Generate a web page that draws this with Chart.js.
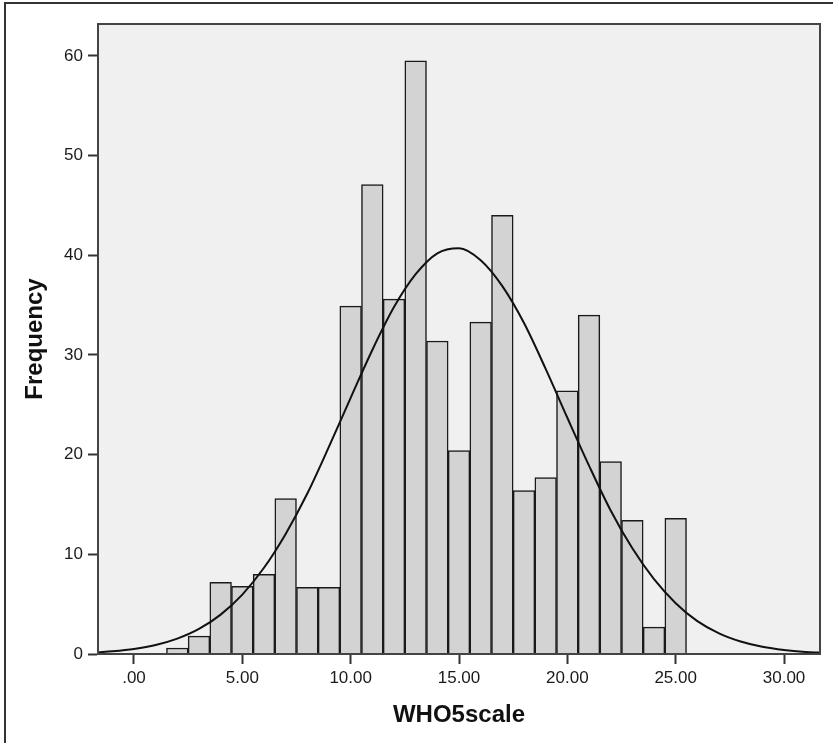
<!DOCTYPE html>
<html>
<head>
<meta charset="utf-8">
<script src="https://cdn.jsdelivr.net/npm/chart.js@4.4.0/dist/chart.umd.min.js"></script>
<style>
  html, body { margin: 0; padding: 0; background: #fff; }
  #wrap { position: relative; width: 833px; height: 743px; }
  #frame { position: absolute; left: 4px; top: 2px; right: 0; bottom: 0;
           border-left: 2px solid #333; border-top: 2px solid #333; pointer-events: none; }
  canvas { position: absolute; left: 0; top: 0; }
</style>
</head>
<body>
<div id="wrap">
  <canvas id="chart" width="833" height="743"></canvas>
  <div id="frame"></div>
</div>
<script>
// histogram bins (centre of each 1-unit bin) and counts
const binCenters = [2, 3, 4, 5, 6, 7, 8, 9, 10, 11, 12, 13, 14, 15, 16, 17, 18, 19, 20, 21, 22, 23, 24, 25];
const frequencies = [0.6, 1.8, 7.2, 6.8, 8.0, 15.6, 6.7, 6.7, 34.9, 47.1, 35.6, 59.5, 31.4, 20.4, 33.3, 44.0, 16.4, 17.7, 26.4, 34.0, 19.3, 13.4, 2.7, 13.6];

// normal curve
const curveX = [-1.66, -1, 0, 1, 2, 3, 4, 5, 6, 7, 8, 9, 10, 11, 12, 13, 14, 15, 16, 17, 18, 19, 20, 21, 22, 23, 24, 25, 26, 27, 28, 29, 30, 31, 31.66];
const curveY = [0.18, 0.28, 0.51, 0.9, 1.54, 2.51, 3.95, 5.96, 8.65, 12.05, 16.1, 20.8, 25.7, 30.5, 34.8, 38.1, 40.2, 40.7, 39.5, 36.9, 33.2, 28.6, 23.7, 18.9, 14.4, 10.6, 7.5, 5.1, 3.3, 2.07, 1.25, 0.72, 0.4, 0.21, 0.14];

const xTicks = [0, 5, 10, 15, 20, 25, 30];
const yTicks = [0, 10, 20, 30, 40, 50, 60];

const plotBox = {
  id: 'plotBox',
  beforeDatasetsDraw(chart) {
    const { ctx, chartArea: a } = chart;
    ctx.save();
    ctx.fillStyle = '#f0f0f0';
    ctx.fillRect(a.left, a.top, a.right - a.left, a.bottom - a.top);
    ctx.restore();
  },
  afterDraw(chart) {
    const { ctx, chartArea: a } = chart;
    ctx.save();
    ctx.strokeStyle = '#444';
    ctx.lineWidth = 2;
    ctx.strokeRect(a.left, a.top, a.right - a.left, a.bottom - a.top);
    ctx.restore();
  }
};

const font = { family: "'Liberation Sans', Arial, sans-serif" };

new Chart(document.getElementById('chart'), {
  type: 'bar',
  data: {
    datasets: [
      {
        type: 'line',
        data: curveX.map((x, i) => ({ x: x, y: curveY[i] })),
        borderColor: '#111',
        borderWidth: 2,
        pointRadius: 0,
        cubicInterpolationMode: 'monotone',
        fill: false,
        order: 0
      },
      {
        type: 'bar',
        data: binCenters.map((x, i) => ({ x: x, y: frequencies[i] })),
        backgroundColor: '#d3d3d3',
        borderColor: '#1a1a1a',
        borderWidth: 1.5,
        barPercentage: 1,
        categoryPercentage: 1,
        grouped: false,
        order: 1
      }
    ]
  },
  options: {
    responsive: false,
    animation: false,
    devicePixelRatio: 1,
    layout: { padding: { left: 0, top: 24, right: 13, bottom: 0 } },
    plugins: { legend: { display: false }, tooltip: { enabled: false } },
    scales: {
      x: {
        type: 'linear',
        offset: false,
        min: -1.66,
        max: 31.66,
        afterBuildTicks: (s) => { s.ticks = xTicks.map(v => ({ value: v })); },
        afterFit: (s) => { s.height = 89; },
        ticks: {
          padding: 4,
          color: '#1a1a1a',
          font: { ...font, size: 17 },
          callback: (v) => v === 0 ? '.00' : v.toFixed(2)
        },
        grid: { offset: false, drawOnChartArea: false, tickLength: 10, tickWidth: 2, tickColor: '#333' },
        border: { color: '#333', width: 2 },
        title: {
          display: true,
          text: 'WHO5scale',
          color: '#111',
          font: { ...font, size: 24, weight: 'bold' },
          padding: { top: 0, bottom: 13 }
        }
      },
      y: {
        min: 0,
        max: 63.2,
        afterBuildTicks: (s) => { s.ticks = yTicks.map(v => ({ value: v })); },
        afterFit: (s) => { s.width = 98; },
        ticks: {
          padding: 5,
          color: '#1a1a1a',
          font: { ...font, size: 17 }
        },
        grid: { drawOnChartArea: false, tickLength: 10, tickWidth: 2, tickColor: '#333' },
        border: { color: '#333', width: 2 },
        title: {
          display: true,
          text: 'Frequency',
          color: '#111',
          font: { ...font, size: 24, weight: 'bold' },
          padding: { top: 21, bottom: 0 }
        }
      }
    }
  },
  plugins: [plotBox]
});
</script>
</body>
</html>
